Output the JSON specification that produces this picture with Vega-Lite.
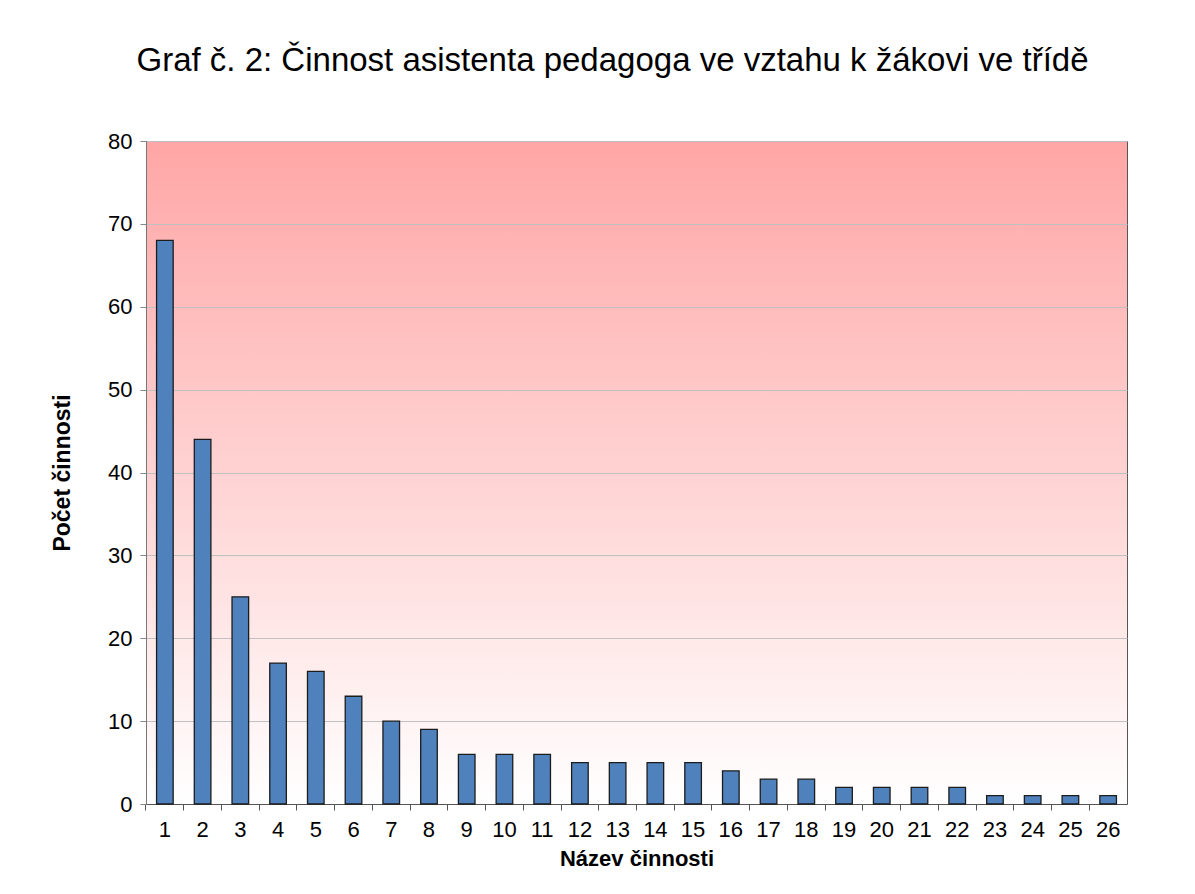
{
  "$schema": "https://vega.github.io/schema/vega-lite/v6.json",
  "width": 981,
  "height": 663,
  "autosize": {"type": "none"},
  "padding": {"left": 146, "top": 141, "right": 68, "bottom": 90},
  "background": "white",
  "title": {
    "text": "Graf č. 2: Činnost asistenta pedagoga ve vztahu k žákovi ve třídě",
    "font": "Liberation Sans",
    "fontSize": 33,
    "fontWeight": "normal",
    "color": "#000000",
    "anchor": "middle",
    "dx": -24,
    "offset": 52
  },
  "data": {
    "values": [
      {"cinnost": 1, "pocet": 68},
      {"cinnost": 2, "pocet": 44},
      {"cinnost": 3, "pocet": 25},
      {"cinnost": 4, "pocet": 17},
      {"cinnost": 5, "pocet": 16},
      {"cinnost": 6, "pocet": 13},
      {"cinnost": 7, "pocet": 10},
      {"cinnost": 8, "pocet": 9},
      {"cinnost": 9, "pocet": 6},
      {"cinnost": 10, "pocet": 6},
      {"cinnost": 11, "pocet": 6},
      {"cinnost": 12, "pocet": 5},
      {"cinnost": 13, "pocet": 5},
      {"cinnost": 14, "pocet": 5},
      {"cinnost": 15, "pocet": 5},
      {"cinnost": 16, "pocet": 4},
      {"cinnost": 17, "pocet": 3},
      {"cinnost": 18, "pocet": 3},
      {"cinnost": 19, "pocet": 2},
      {"cinnost": 20, "pocet": 2},
      {"cinnost": 21, "pocet": 2},
      {"cinnost": 22, "pocet": 2},
      {"cinnost": 23, "pocet": 1},
      {"cinnost": 24, "pocet": 1},
      {"cinnost": 25, "pocet": 1},
      {"cinnost": 26, "pocet": 1}
    ]
  },
  "mark": {
    "type": "bar",
    "width": {"band": 0.44},
    "fill": "#4F81BD",
    "stroke": "#1C1C1C",
    "strokeWidth": 1.3
  },
  "encoding": {
    "x": {
      "field": "cinnost",
      "type": "ordinal",
      "sort": null,
      "scale": {"paddingInner": 0, "paddingOuter": 0},
      "axis": {
        "title": "Název činnosti",
        "titleFont": "Liberation Sans",
        "titleFontSize": 22,
        "titleFontWeight": "bold",
        "titleColor": "#000000",
        "titlePadding": 8,
        "labelAngle": 0,
        "labelFont": "Liberation Sans",
        "labelFontSize": 22,
        "labelColor": "#000000",
        "labelPadding": 9,
        "bandPosition": 0,
        "ticks": true,
        "tickSize": 6,
        "tickColor": "#555555",
        "domainColor": "#555555",
        "grid": false
      }
    },
    "y": {
      "field": "pocet",
      "type": "quantitative",
      "scale": {"domain": [0, 80], "nice": false},
      "axis": {
        "title": "Počet činnosti",
        "titleFont": "Liberation Sans",
        "titleFontSize": 23,
        "titleFontWeight": "bold",
        "titleColor": "#000000",
        "titlePadding": 33,
        "values": [0, 10, 20, 30, 40, 50, 60, 70, 80],
        "labelFont": "Liberation Sans",
        "labelFontSize": 22,
        "labelColor": "#000000",
        "labelPadding": 8,
        "tickSize": 6,
        "tickColor": "#888888",
        "domainColor": "#777777",
        "grid": true,
        "gridColor": "#C0C0C0",
        "gridWidth": 1
      }
    }
  },
  "config": {
    "view": {
      "stroke": "#555555",
      "strokeWidth": 1,
      "fill": {
        "gradient": "linear",
        "x1": 0, "y1": 0, "x2": 0, "y2": 1,
        "stops": [
          {"offset": 0, "color": "#FFA6A6"},
          {"offset": 1, "color": "#FFFFFF"}
        ]
      }
    }
  }
}
